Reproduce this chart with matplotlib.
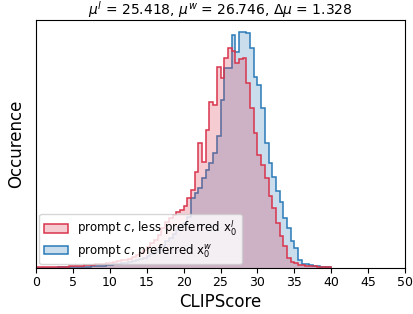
import numpy as np
import matplotlib
matplotlib.use("Agg")
import matplotlib.pyplot as plt
from matplotlib.patches import Patch

# bin edges: 0 .. 40 in steps of 0.5
bin_start = 0.0
bin_width = 0.5
n_bins = 80

less_preferred = [
    1, 1, 1, 1, 1, 1, 1, 1, 1, 1.5,
    1.5, 2, 2, 2.5, 3, 3, 3.5, 4, 4, 5,
    5, 6, 7, 8, 8, 9, 11, 13, 15, 18,
    21, 25, 28, 33, 40, 46, 50, 53, 56, 58,
    62, 70, 78, 96, 125, 106, 138, 166, 163, 201,
    190, 210, 220, 217, 205, 209, 210, 185, 160, 135,
    113, 103, 90, 72, 60, 45, 32, 22, 10, 6,
    5, 3, 3, 2, 2, 2, 1, 1, 1, 1,
]
preferred = [
    0, 0, 0, 0, 0, 0, 0.5, 0.5, 0.5, 0.5,
    1, 1, 1, 1, 1, 1.5, 1.5, 2, 2, 2.5,
    3, 3.5, 4, 4.5, 5, 6, 7, 8, 9, 10,
    12, 14, 16, 19, 22, 27, 30, 34, 38, 42,
    45, 51, 70, 75, 80, 90, 98, 105, 115, 132,
    168, 200, 200, 233, 216, 236, 236, 235, 220, 191,
    183, 160, 125, 105, 91, 77, 66, 50, 40, 27,
    20, 8, 4, 4, 3, 2, 2, 1, 1, 1,
]
labels = [r"prompt $c$, less preferred $\mathrm{x}_0^l$",
          r"prompt $c$, preferred $\mathrm{x}_0^w$"]
title = r"$\mu^l$ = 25.418, $\mu^w$ = 26.746, $\Delta\mu$ = 1.328"
xticks = list(range(0, 55, 5))

edges = bin_start + bin_width * np.arange(n_bins + 1)

red = "#d8344c"
blue = "#2a7ab8"

fig = plt.figure(figsize=(4.13, 3.14), dpi=100)
ax = fig.add_axes([0.087, 0.1465, 0.894, 0.7895])

ax.stairs(preferred, edges, fill=True, facecolor=matplotlib.colors.to_rgba(blue, 0.25),
          edgecolor="none")
ax.stairs(preferred, edges, fill=False, color=blue, lw=1.1)
ax.stairs(less_preferred, edges, fill=True, facecolor=matplotlib.colors.to_rgba(red, 0.25),
          edgecolor="none")
ax.stairs(less_preferred, edges, fill=False, color=red, lw=1.1)

ax.set_xlim(0, 50)
ax.set_ylim(0, max(max(preferred), max(less_preferred)) * 1.05)
ax.set_xticks(xticks)
ax.set_yticks([])
ax.tick_params(axis="x", labelsize=9, pad=2)
ax.set_xlabel("CLIPScore", fontsize=12, labelpad=3)
ax.set_ylabel("Occurence", fontsize=12, labelpad=8)
ax.set_title(title, fontsize=10, pad=4)

handles = [Patch(facecolor=matplotlib.colors.to_rgba(red, 0.25), edgecolor=red, lw=1.1),
           Patch(facecolor=matplotlib.colors.to_rgba(blue, 0.25), edgecolor=blue, lw=1.1)]
ax.legend(handles, labels, loc="lower left", fontsize=8.5, framealpha=0.8,
          borderaxespad=0.3, handlelength=2.0, labelspacing=0.35)

fig.savefig("out.png", dpi=100)
